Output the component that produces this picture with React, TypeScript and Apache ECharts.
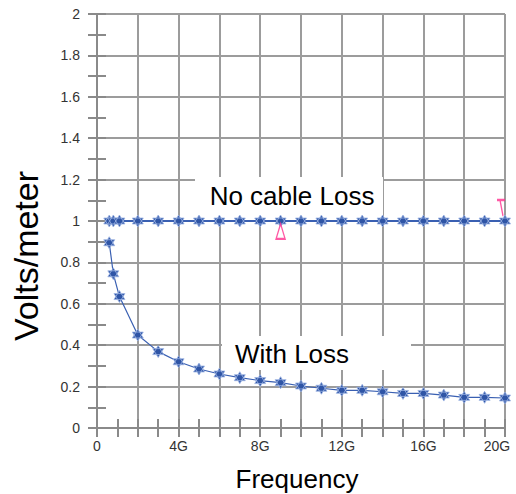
import React, { useEffect, useRef } from 'react';
import * as echarts from 'echarts';

// Frequency (GHz) of each measured point
const frequencies = [0.6, 0.8, 1.1, 2, 3, 4, 5, 6, 7, 8, 9, 10, 11, 12, 13, 14, 15, 16, 17, 18, 19, 20];
// Field strength without cable loss (V/m)
const noCableLoss = [1, 1, 1, 1, 1, 1, 1, 1, 1, 1, 1, 1, 1, 1, 1, 1, 1, 1, 1, 1, 1, 1];
// Field strength with cable loss (V/m)
const withLoss = [0.895, 0.745, 0.635, 0.449, 0.369, 0.32, 0.285, 0.261, 0.243, 0.229, 0.219, 0.203, 0.192, 0.182, 0.182, 0.175, 0.167, 0.167, 0.159, 0.148, 0.148, 0.145];
// Pink reference markers
const markerUpX = [9];
const markerUpY = [0.95];
const markerDownX = [20];
const markerDownY = [1.063];
// Tick labels on the frequency axis
const xTickValues = [0, 4, 8, 12, 16, 20];
const xTickLabels = ['0', '4G', '8G', '12G', '16G', '20G'];

const starPath = 'path://M50,0 L93.3,75 L6.7,75 Z M50,100 L6.7,25 L93.3,25 Z';
const FONT = 'Liberation Sans, Arial, sans-serif';
const AXIS_GRAY = '#8a8a8a';
const GRID_GRAY = '#9c9c9c';
const BLUE = '#2f55a6';
const PINK = '#ff2f8e';

export default function App() {
  const ref = useRef<HTMLDivElement>(null);
  useEffect(() => {
    if (!ref.current) return;
    const chart = echarts.init(ref.current, null, { renderer: 'svg' });
    const tickCommon = {
      axisLine: { show: true, lineStyle: { color: AXIS_GRAY, width: 2 } },
      axisTick: { show: true, inside: true, length: 9, lineStyle: { color: AXIS_GRAY, width: 2 } },
      minorTick: { show: true, splitNumber: 2, length: 9, lineStyle: { color: AXIS_GRAY, width: 2 } },
    };
    const pointsOf = (xs: number[], ys: number[]) => xs.map((x, i) => [x, ys[i]]);
    chart.setOption({
      animation: false,
      backgroundColor: '#fff',
      grid: { left: 97, right: 11, top: 14, bottom: 66, outerBoundsMode: 'none', containLabel: false },
      xAxis: [
        {
          type: 'value', min: 0, max: 20, interval: 2, position: 'bottom',
          ...tickCommon,
          splitLine: { show: true, lineStyle: { color: GRID_GRAY, width: 2 } },
          axisLabel: {
            show: true, margin: 11, fontSize: 14, color: '#333', fontFamily: FONT,
            formatter: (v: number) => {
              const i = xTickValues.indexOf(v);
              if (i < 0) return '';
              return i === xTickValues.length - 1 ? '{last|' + xTickLabels[i] + '}' : xTickLabels[i];
            },
            rich: { last: { fontSize: 14, color: '#333', fontFamily: FONT, padding: [0, 16, 0, 0] } },
          },
        },
        {
          type: 'value', min: 0, max: 20, interval: 2, position: 'top',
          ...tickCommon,
          splitLine: { show: false },
          axisLabel: { show: false },
        },
      ],
      yAxis: [
        {
          type: 'value', min: 0, max: 2, interval: 0.2, position: 'left',
          ...tickCommon,
          splitLine: { show: true, lineStyle: { color: GRID_GRAY, width: 2 } },
          axisLabel: { show: true, margin: 17, fontSize: 14, color: '#333', fontFamily: FONT },
        },
        {
          type: 'value', min: 0, max: 2, interval: 0.2, position: 'right',
          ...tickCommon,
          splitLine: { show: false },
          axisLabel: { show: false },
        },
      ],
      series: [
        {
          type: 'line', name: 'No cable Loss', clip: false, z: 3,
          data: pointsOf(frequencies, noCableLoss),
          symbol: starPath, symbolSize: [11, 12],
          itemStyle: { color: BLUE, borderColor: '#9fb6e4', borderWidth: 0.8 },
          lineStyle: { color: '#3a60b2', width: 2 },
        },
        {
          type: 'line', name: 'With Loss', clip: false, z: 3,
          data: pointsOf(frequencies, withLoss),
          symbol: starPath, symbolSize: [11, 12],
          itemStyle: { color: BLUE, borderColor: '#9fb6e4', borderWidth: 0.8 },
          lineStyle: { color: '#3a60b2', width: 1.2 },
        },
        {
          type: 'scatter', clip: false, z: 4,
          data: pointsOf(markerUpX, markerUpY),
          symbol: 'triangle', symbolSize: [9, 15],
          itemStyle: { color: '#fff', borderColor: PINK, borderWidth: 1.6 },
        },
        {
          type: 'scatter', clip: false, z: 4,
          data: pointsOf(markerDownX, markerDownY),
          symbol: 'path://M0,0 L8,0 M3,0 L6,16', symbolSize: [8, 16], symbolOffset: [-4, 0],
          itemStyle: { color: 'none', borderColor: PINK, borderWidth: 1.8 },
        },
      ],
      graphic: [
        { type: 'rect', z: 1, shape: { x: 195, y: 177, width: 188, height: 40 }, style: { fill: '#fff' } },
        { type: 'text', z: 5, x: 292, y: 196, style: { text: 'No cable Loss', fontSize: 26, fontFamily: FONT, fill: '#000', align: 'center', verticalAlign: 'middle' } },
        { type: 'rect', z: 1, shape: { x: 222, y: 336, width: 189, height: 34 }, style: { fill: '#fff' } },
        { type: 'text', z: 5, x: 292, y: 354, style: { text: 'With Loss', fontSize: 26, fontFamily: FONT, fill: '#000', align: 'center', verticalAlign: 'middle' } },
        { type: 'text', z: 5, x: 297, y: 479, style: { text: 'Frequency', fontSize: 26, fontFamily: FONT, fill: '#000', align: 'center', verticalAlign: 'middle' } },
        { type: 'text', z: 5, x: 26, y: 256, rotation: Math.PI / 2, style: { text: 'Volts/meter', fontSize: 34, fontFamily: FONT, fill: '#000', align: 'center', verticalAlign: 'middle' } },
      ],
    });
    return () => chart.dispose();
  }, []);
  return <div ref={ref} style={{ width: 516, height: 494, position: 'absolute', left: 0, top: 0 }} />;
}
